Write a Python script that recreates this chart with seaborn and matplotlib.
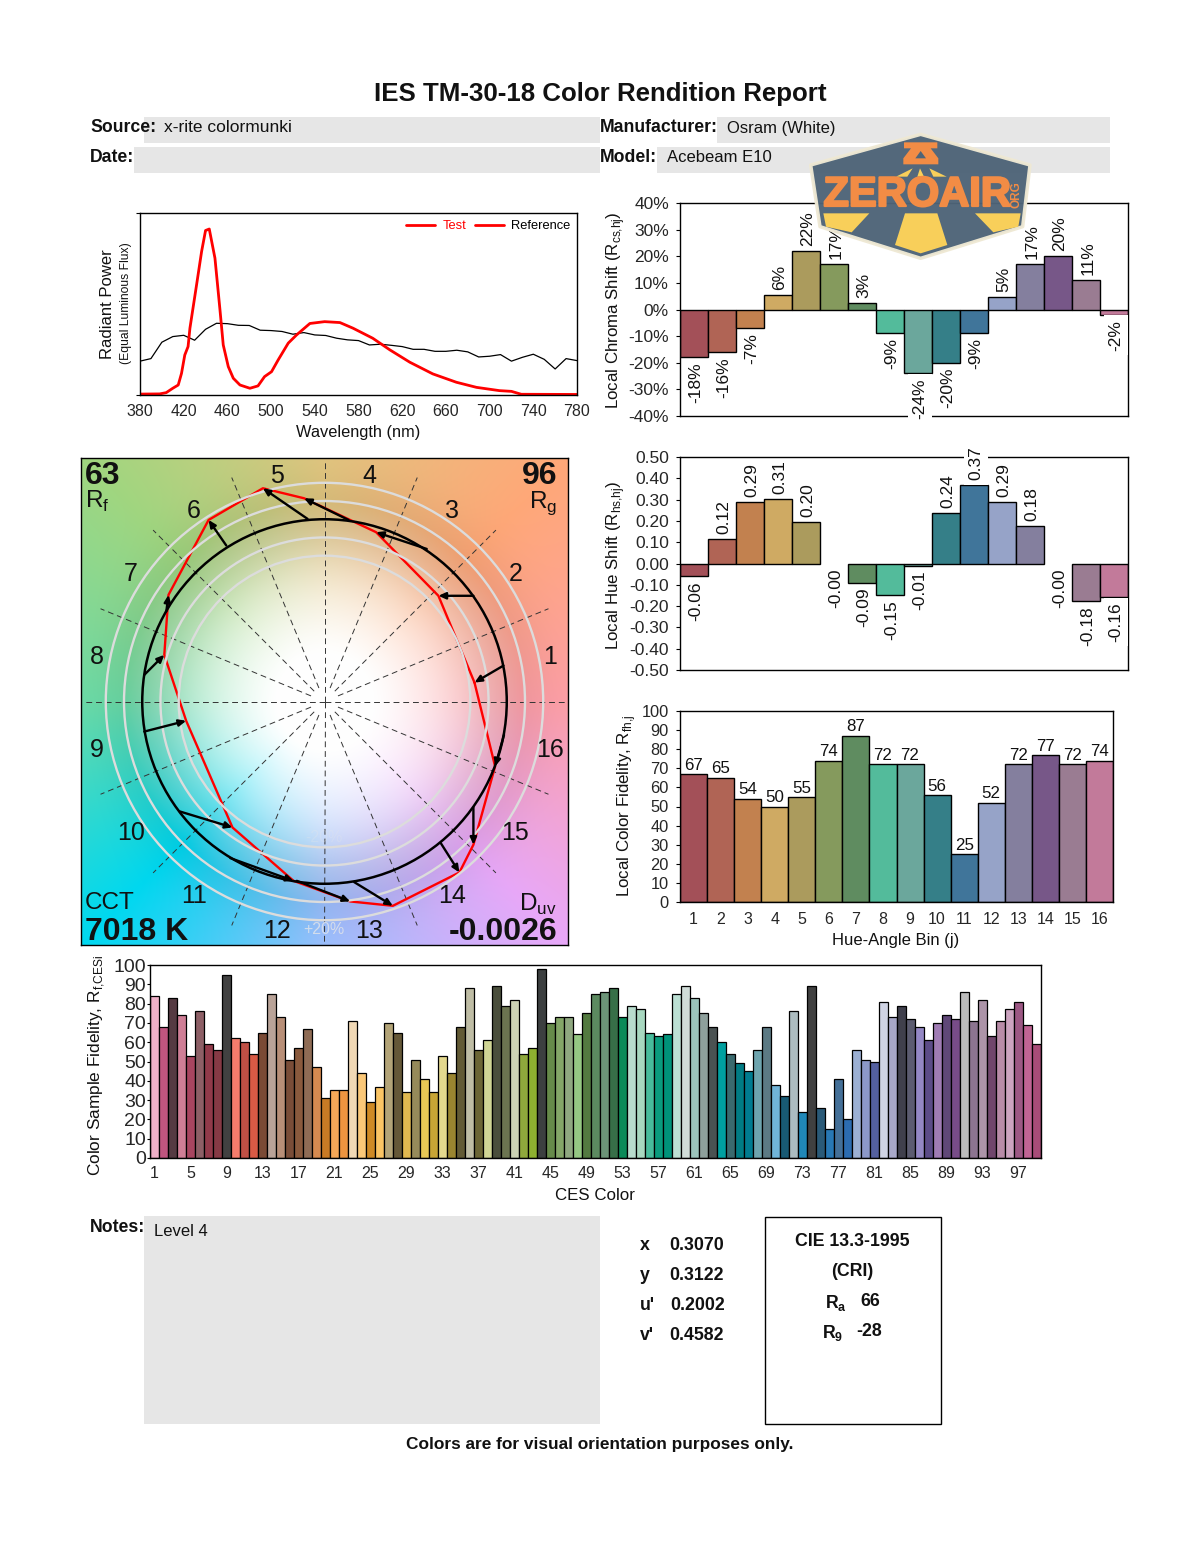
import numpy as np
import pandas as pd
import seaborn as sns
import matplotlib.pyplot as plt
from matplotlib.colors import to_rgb
from matplotlib.patches import Circle, Polygon, Rectangle
import matplotlib.patheffects as pe

# ---------------- data ----------------
bin_colors = ['#a35058', '#b06455', '#c2814f', '#cfaa63', '#ab9b5d', '#859a5d', '#5f8c60', '#53bb9b',
              '#6ba79c', '#357f88', '#40759a', '#96a3c8', '#847f9e', '#775788', '#9a7c92', '#c27a9a']
bins = [str(i) for i in range(1, 17)]

chroma_shift = [-18, -16, -7, 5.5, 22, 17, 2.6, -8.7, -24, -20, -8.7, 4.8, 17, 20, 11, -2]
hue_shift = [-0.06, 0.115, 0.29, 0.305, 0.197, -0.0, -0.09, -0.147, -0.01, 0.235, 0.367, 0.29, 0.178, -0.0, -0.177, -0.158]
hue_labels = [-0.06, 0.12, 0.29, 0.31, 0.20, -0.0, -0.09, -0.15, -0.01, 0.24, 0.37, 0.29, 0.18, -0.0, -0.18, -0.16]
bin_fidelity = [67, 65, 54, 50, 55, 74, 87, 72, 72, 56, 25, 52, 72, 77, 72, 74]

ces_values = [84, 68, 83, 74, 53, 76, 59, 56, 95, 62, 60, 54, 65, 85, 73, 51, 57, 67, 47, 31,
              35, 35, 71, 44, 29, 37, 70, 65, 34, 51, 41, 34, 53, 44, 68, 88, 56, 61, 89, 79,
              82, 54, 57, 98, 70, 73, 73, 64, 75, 85, 86, 88, 73, 79, 77, 65, 63, 64, 85, 89,
              83, 75, 68, 60, 54, 49, 45, 56, 68, 38, 32, 76, 24, 89, 26, 15, 41, 20, 56, 51,
              50, 81, 73, 79, 72, 68, 61, 70, 74, 72, 86, 71, 82, 63, 71, 77, 81, 69, 59]
ces_colors = ['#efb0c8', '#c0557f', '#553a42', '#cf7e96', '#a84560', '#8d5f66', '#913a4a', '#863a45', '#414141',
              '#f57c6c', '#c05045', '#d85a45', '#7a4a35', '#b9a398', '#b88f78', '#7a4d38', '#8a5a3d', '#8f6c55',
              '#d58a50', '#c87a25', '#f5a858', '#ee9540', '#f0d8b5', '#fbc878', '#cf8a25', '#fbc565', '#b3a478',
              '#655838', '#e0b850', '#968a5a', '#e8c855', '#c8a535', '#e3d88e', '#9a8530', '#625a35', '#bfbda5',
              '#6b6535', '#d0d595', '#4a4e3c', '#6b7450', '#cdd3b5', '#8fa83c', '#8db030', '#3c3f40', '#668a4a',
              '#84a668', '#8fa880', '#95c883', '#537a40', '#5c8a60', '#6c9478', '#376f48', '#0a8a58', '#b8dccd',
              '#a8d8c0', '#48bc9c', '#0a9c7e', '#00937a', '#bce0d4', '#d0dcd8', '#9cc4bc', '#8ea09c', '#4a5252',
              '#00a0a0', '#3a6a6e', '#007c84', '#007c90', '#6ea4ae', '#5c7a84', '#70b4d8', '#185a74', '#acbcc0',
              '#2088b8', '#404040', '#2a5a78', '#2878b4', '#447098', '#2c6cb0', '#9cb0d4', '#8c98c8', '#5460a0',
              '#d0d4e4', '#a8a8c8', '#40404c', '#5c5c70', '#9488c4', '#5c4c88', '#a07cb4', '#604878', '#784c88',
              '#bcbcbc', '#8c7490', '#ac94a8', '#70466c', '#b88ca8', '#cca4c0', '#9c5884', '#c06494', '#a84c78']
ces_names = [str(i) for i in range(1, 100)]

ref_nm = list(range(380, 790, 10))
ref_power = [0.186, 0.200, 0.290, 0.321, 0.328, 0.301, 0.361, 0.394, 0.392, 0.383, 0.382, 0.356, 0.354, 0.349,
             0.334, 0.343, 0.330, 0.327, 0.312, 0.303, 0.299, 0.275, 0.279, 0.273, 0.266, 0.251, 0.251, 0.240,
             0.240, 0.246, 0.237, 0.209, 0.213, 0.222, 0.186, 0.207, 0.224, 0.196, 0.143, 0.200, 0.189]
test_nm = [380, 398, 404, 410, 415, 418, 421, 424, 425.7, 431.8, 436.4, 440, 443.4, 448.6, 453.2, 456.2, 460.8,
           465.4, 471.5, 480.6, 488, 494, 500.4, 506.5, 515.7, 523.3, 535.5, 549, 563, 575, 593, 608.7, 627,
           648, 669.6, 688, 709, 720, 729, 780]
test_power = [0.005, 0.006, 0.013, 0.037, 0.055, 0.119, 0.220, 0.266, 0.367, 0.606, 0.789, 0.904, 0.912, 0.752,
              0.468, 0.275, 0.156, 0.092, 0.055, 0.037, 0.050, 0.101, 0.128, 0.193, 0.285, 0.330, 0.393, 0.403,
              0.398, 0.367, 0.312, 0.248, 0.180, 0.116, 0.070, 0.042, 0.024, 0.020, 0.004, 0.003]

test_x = [.823, .625, .283, -.112, -.338, -.636, -.856, -.879, -.759, -.505, -.170, .141, .375, .740, .817, .936]
test_y = [.104, .580, .929, 1.115, 1.170, .996, .585, .256, -.106, -.691, -.984, -1.097, -1.121, -.938, -.786, -.356]
ref_x = [.982, .817, .561, .132, -.093, -.539, -.868, -.989, -.989, -.795, -.517, -.152, .163, .638, .817, .985]
ref_y = [.197, .580, .837, .996, 1.002, .856, .494, .146, -.165, -.603, -.859, -.984, -.991, -.777, -.581, -.183]
rings = [0.8, 0.9, 1.1, 1.2]
bg_angles = [0, 45, 90, 135, 180, 225, 270, 315, 360]
bg_colors = ['#ffa0a8', '#ffa878', '#e2c680', '#a0d680', '#6cdca8', '#00d8f0', '#9cc0ff', '#e8a8f8', '#ffa0a8']

# ---------------- setup ----------------
sns.set_theme(style="white")
plt.rcParams['font.family'] = ['Liberation Sans', 'DejaVu Sans']
plt.rcParams['mathtext.fontset'] = 'custom'
plt.rcParams['mathtext.rm'] = 'Liberation Sans'
plt.rcParams['mathtext.bf'] = 'Liberation Sans:bold'
plt.rcParams['axes.edgecolor'] = 'black'
plt.rcParams['text.color'] = '#111111'

W, H = 1200, 1550
fig = plt.figure(figsize=(W / 100, H / 100), dpi=100, facecolor='white')


def box(left, top, right, bottom):
    # axes from pixel edges
    return fig.add_axes([left / W, 1 - bottom / H, (right - left) / W, (bottom - top) / H])


def style_ticks(ax, xsize, ysize, xpad=6, ypad=5, ylen=3):
    ax.tick_params(axis='x', labelsize=xsize, length=0, color='black', pad=xpad, bottom=True)
    ax.tick_params(axis='y', labelsize=ysize, length=ylen, width=0.8, color='black', pad=ypad, left=True)
    for s in ax.spines.values():
        s.set_linewidth(1)
        s.set_color('black')
    ax.set_xlabel('')
    ax.set_ylabel('')


def bars(ax, names, values, colors, lw=1.0):
    df = pd.DataFrame({'name': names, 'value': values})
    sns.barplot(data=df, x='name', y='value', hue='name', order=names, hue_order=names, palette=colors,
                width=1, dodge=False, legend=False, saturation=1, edgecolor='black', linewidth=lw, ax=ax)
    for p in ax.patches:
        if p.get_height() == 0:
            p.set_visible(False)
    ax.set_xlim(-0.5, len(names) - 0.5)


def shift_labels(ax, values, texts, breaks_frame):
    # only the labels that run into the frame carry a white box
    for i, (v, t) in enumerate(zip(values, texts)):
        up = v > 0
        ax.annotate(t, (i, v), xytext=(1.5, 3.6 if up else -3.6), textcoords='offset points', rotation=90,
                    ha='center', va='bottom' if up else 'top', fontsize=12.5, zorder=6, annotation_clip=False,
                    bbox=dict(facecolor='white', edgecolor='none', pad=3.2) if i in breaks_frame else None)


# ---------------- spectrum ----------------
ax = box(140, 213, 577, 395)
sns.lineplot(x=ref_nm, y=ref_power, color='black', linewidth=0.9, ax=ax)
sns.lineplot(x=test_nm, y=test_power, color='#ff0000', linewidth=2, ax=ax)
ax.set_xlim(380, 780)
ax.set_ylim(0, 1)
ax.set_xticks(range(380, 781, 40))
ax.set_yticks([0, 1])
ax.set_yticklabels([])
style_ticks(ax, 11.5, 11.5, xpad=6.5)
lines = [plt.Line2D([], [], color='#ff0000', linewidth=2) for _ in range(2)]
ax.legend(lines, ['Test', 'Reference'], ncol=2, frameon=False, loc='upper right', fontsize=9.3,
          labelcolor=['#ff0000', 'black'], handlelength=2.2, columnspacing=0.7, handletextpad=0.6,
          borderaxespad=0.1, bbox_to_anchor=(1.0, 0.995))

# ---------------- chroma shift ----------------
ax = box(680, 203, 1128, 416)
bars(ax, bins, chroma_shift, bin_colors)
ax.set_ylim(-40, 40)
ax.set_yticks(range(-40, 41, 10))
ax.set_yticklabels([f'{v}%' for v in range(-40, 41, 10)])
ax.set_xticks([])
style_ticks(ax, 12.5, 12.5)
shift_labels(ax, chroma_shift, [f'{v:.0f}%' for v in chroma_shift], [8, 15])

# ---------------- hue shift ----------------
ax = box(680, 457, 1128, 670)
bars(ax, bins, hue_shift, bin_colors)
ax.set_ylim(-0.5, 0.5)
ax.set_yticks(np.arange(-5, 6) / 10)
ax.set_yticklabels([f'{v / 10:.2f}' for v in range(-5, 6)])
ax.set_xticks([])
style_ticks(ax, 12.5, 12.5)
shift_labels(ax, hue_shift, [f'{v:.2f}' for v in hue_labels], [10, 15])

# ---------------- fidelity per bin ----------------
ax = box(680, 711, 1113, 902)
bars(ax, bins, bin_fidelity, bin_colors)
ax.set_ylim(0, 100)
ax.set_yticks(range(0, 101, 10))
style_ticks(ax, 11.5, 11.8, xpad=7)
for i, v in enumerate(bin_fidelity):
    ax.annotate(str(v), (i, v), xytext=(0, 1), textcoords='offset points', ha='center', va='bottom', fontsize=12.2)

# ---------------- fidelity per CES ----------------
ax = box(150, 965, 1041, 1158)
bars(ax, ces_names, ces_values, ces_colors, lw=0.9)
ax.set_ylim(0, 100)
ax.set_yticks(range(0, 101, 10))
ax.set_xticks(range(0, 99, 4))
style_ticks(ax, 11.5, 14, xpad=6, ypad=0.8, ylen=2)

# ---------------- vector graphic ----------------
ax = box(81, 458, 568, 945)
lim = 1.336
grid = np.linspace(-lim, lim, 500)
gx, gy = np.meshgrid(grid, grid)
ang = np.degrees(np.arctan2(gy, gx)) % 360
rad = np.hypot(gx, gy)
rgb = np.array([to_rgb(c) for c in bg_colors])
img = np.dstack([np.interp(ang, bg_angles, rgb[:, k]) for k in range(3)])
fade = np.clip((rad - 0.25) / 0.85, 0, 1)[..., None] ** 1.3
img = 1 - (1 - img) * fade
img = img * (1 - 0.07 * np.exp(-((rad - 1.0) / 0.25) ** 2))[..., None]
ax.imshow(img, extent=(-lim, lim, -lim, lim), origin='lower', zorder=0, aspect='auto')
for k in range(16):
    a = np.radians(22.5 * k)
    start = 0.0 if k % 4 == 0 else 0.08
    sns.lineplot(x=[start * np.cos(a), 1.33 * np.cos(a)], y=[start * np.sin(a), 1.33 * np.sin(a)], sort=False,
                 color='#333333', linewidth=0.7, linestyle=(0, (6, 4)), zorder=1, ax=ax)
sns.lineplot(x=test_x + test_x[:1], y=test_y + test_y[:1], sort=False, estimator=None, color='#ff0000',
             linewidth=1.7, zorder=3, ax=ax)
for r in rings:
    ax.add_patch(Circle((0, 0), r, fill=False, edgecolor='#dcdcdc', linewidth=1.7, zorder=4))
ax.add_patch(Circle((0, 0), 1.0, fill=False, edgecolor='black', linewidth=1.8, zorder=5))
for x0, y0, x1, y1 in zip(ref_x, ref_y, test_x, test_y):
    ax.annotate('', xy=(x1, y1), xytext=(x0, y0), zorder=6,
                arrowprops=dict(arrowstyle='-|>,head_length=0.35,head_width=0.16', color='black', linewidth=1.7,
                                shrinkA=0, shrinkB=0))
for k in range(16):
    a = np.radians(11.25 + 22.5 * k)
    cx, cy = np.cos(a), np.sin(a)
    ax.text(1.26 * cx - (0.015 if cx < 0 else 0), 1.26 * cy - (0.022 if cy < 0 else 0), bins[k],
            fontsize=18, ha='center', va='center', zorder=7)
ax.set_xlim(-lim, lim)
ax.set_ylim(-lim, lim)
ax.set_xticks([])
ax.set_yticks([])
ax.set_xlabel('')
ax.set_ylabel('')
for s in ax.spines.values():
    s.set_linewidth(1)
    s.set_color('black')

# ---------------- page furniture, drawn in pixels ----------------
page = fig.add_axes([0, 0, 1, 1], zorder=-1)
page.set_xlim(0, W)
page.set_ylim(H, 0)
page.axis('off')
over = fig.add_axes([0, 0, 1, 1], zorder=10)
over.set_xlim(0, W)
over.set_ylim(H, 0)
over.axis('off')
over.patch.set_alpha(0)


def label(x, y, s, size=12.5, bold=False, ha='left', rot=0, color='#111111', alpha=1.0):
    # va center sits a little high against the scan, rotated text a little left
    x = x + 3 if rot else x
    y = y if rot else y + 2
    return over.text(x, y, s, fontsize=size, fontweight='bold' if bold else 'normal', ha=ha, va='center',
                     rotation=rot, color=color, alpha=alpha, rotation_mode='anchor' if rot == 0 else 'default')


for x0, y0, x1, y1 in [(144, 117, 600, 143), (134, 147, 600, 173), (717, 117, 1110, 143),
                       (657, 147, 1110, 173), (144, 1216, 600, 1424)]:
    page.add_patch(Rectangle((x0, y0), x1 - x0, y1 - y0, facecolor='#e6e6e6', edgecolor='none'))

label(600.5, 92, 'IES TM-30-18 Color Rendition Report', 18.6, True, 'center')
label(90, 126, 'Source:', 12.7, bold=True)
label(164, 126, 'x-rite colormunki')
label(90, 156, 'Date:', 12.7, bold=True)
label(600, 126, 'Manufacturer:', 12.7, bold=True)
label(727, 126, 'Osram (White)', 12)
label(600, 156, 'Model:', 12.7, bold=True)
label(667, 156, 'Acebeam E10', 12)

label(104, 304, 'Radiant Power', 12, ha='center', rot=90)
label(123, 303, '(Equal Luminous Flux)', 8.7, ha='center', rot=90)
label(358, 431, 'Wavelength (nm)', 11.8, ha='center')
label(613, 310, r'Local Chroma Shift (R$_{\mathrm{cs{,}hj}}$)', 12.2, ha='center', rot=90)
label(613, 565, r'Local Hue Shift (R$_{\mathrm{hs{,}hj}}$)', 12.2, ha='center', rot=90)
label(624, 806, r'Local Color Fidelity, R$_{\mathrm{fh{,}j}}$', 12.2, ha='center', rot=90)
label(896, 939, 'Hue-Angle Bin (j)', 12, ha='center')
label(94, 1065, r'Color Sample Fidelity, R$_{\mathrm{f{,}CESi}}$', 12.4, ha='center', rot=90)
label(595, 1194, 'CES Color', 12.2, ha='center')

label(85, 474, '63', 23, True)
label(85, 499, r'R$_{\mathrm{f}}$', 17.5)
label(557, 474, '96', 23, True, 'right')
label(557, 501, r'R$_{\mathrm{g}}$', 17.5, ha='right')
label(85, 901, 'CCT', 17.5)
label(85, 930, '7018 K', 23, True)
label(557, 902, r'D$_{\mathrm{uv}}$', 17.5, ha='right')
label(557, 930, '-0.0026', 23, True, 'right')
label(324, 928, '+20%', 11.5, ha='center', color='#e8e8e8', alpha=0.75)
label(324, 836, '-20%', 11.5, ha='center', color='#e8e8e8', alpha=0.25)

label(90, 1226, 'Notes:', 12.7, bold=True)
label(154, 1230, 'Level 4', 12)
for y, name, val, xv in [(1244, 'x', '0.3070', 669), (1274, 'y', '0.3122', 669),
                         (1304, "u'", '0.2002', 670), (1334, "v'", '0.4582', 669)]:
    label(640, y, name, 12.8, True)
    label(xv, y, val, 12.8, True)
over.add_patch(Rectangle((764.5, 1216.5), 176, 207.5, fill=False, edgecolor='black', linewidth=1))
label(852, 1240, 'CIE 13.3-1995', 12.8, True, 'center')
label(852, 1270, '(CRI)', 12.8, True, 'center')
label(825, 1301, r'R$_{\mathbf{a}}$', 12.8, True)
label(860, 1300, '66', 12.8, True)
label(822, 1331, r'R$_{\mathbf{9}}$', 12.8, True)
label(856, 1330, '-28', 12.8, True)
label(600, 1443, 'Colors are for visual orientation purposes only.', 12.45, True, 'center')


# logo, outline at 3x
def logo(points, color, **kw):
    pts = [(800 + px / 3, 125 + py / 3) for px, py in points]
    over.add_patch(Polygon(pts, closed=True, facecolor=color, **kw))


logo([(362, 28), (690, 120), (668, 305), (362, 400), (60, 305), (32, 120)], '#4e6478', edgecolor='#efe9d4',
     linewidth=2.5, alpha=0.97, joinstyle='round')
orange = '#f28c45'
yellow = '#f8cf5a'
logo([(312, 52), (412, 52), (412, 70), (392, 70), (415, 100), (415, 118), (310, 118), (310, 100), (333, 70), (312, 70)], orange, edgecolor='none')
logo([(362, 78), (378, 100), (346, 100)], '#4e6478', edgecolor='none')
logo([(288, 155), (338, 130), (322, 155)], yellow, edgecolor='none')
logo([(352, 155), (360, 130), (372, 155)], yellow, edgecolor='none')
logo([(400, 155), (388, 130), (440, 155)], yellow, edgecolor='none')
logo([(70, 265), (208, 265), (155, 322), (78, 305)], yellow, edgecolor='none')
logo([(315, 265), (412, 265), (442, 360), (362, 385), (285, 360)], yellow, edgecolor='none')
logo([(525, 265), (662, 265), (655, 305), (580, 322)], yellow, edgecolor='none')
t = over.text(917, 195, 'ZEROAIR', fontsize=30, fontweight='bold', color=orange, ha='center', va='center')
t.set_path_effects([pe.withStroke(linewidth=1.6, foreground=orange)])
over.text(1017, 195, 'ORG', fontsize=8.5, fontweight='bold', color=orange, ha='center', va='center', rotation=90)

fig.savefig('out.png', dpi=100)
